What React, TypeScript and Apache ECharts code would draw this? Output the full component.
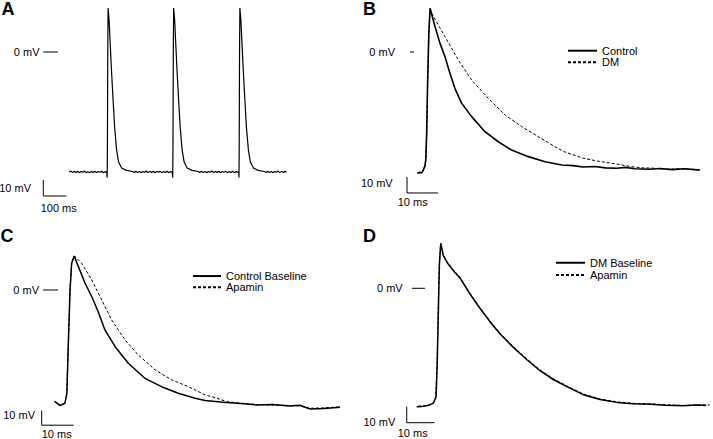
import React, { useEffect, useRef } from "react";
import * as echarts from "echarts";

// ---------- Panel A: spike train (t in ms, V in mV) ----------
const A_TRACE: number[][] = [
  [0, -75.0], [8, -74.4], [15, -75.4], [22, -74.6], [30, -75.3], [37, -74.5], [45, -75.5], [52, -74.7],
  [60, -75.2], [67, -74.4], [75, -75.4], [82, -74.8], [90, -75.5], [97, -74.6], [105, -75.3], [112, -74.5],
  [120, -75.4], [127, -74.7], [135, -75.2], [142, -74.5], [150, -75.5], [157, -74.8], [164, -75.2],
  [166, -78.5], [167, -60], [168.5, 0], [170, 27.5], [174.3, 20], [183.9, -9.4], [191.7, -30], [198.3, -46.9],
  [207, -61.3], [215.7, -68.8], [228.7, -72.5], [250.4, -74], [276.5, -74.7],
  [284, -75.3], [291, -74.5], [299, -75.4], [306, -74.6], [314, -75.5], [321, -74.7], [329, -75.2], [336, -74.4],
  [344, -75.4], [351, -74.6], [359, -75.3], [366, -74.5], [374, -75.5], [381, -74.7], [389, -75.2], [396, -74.5],
  [404, -75.4], [411, -74.7], [419, -75.3], [426, -74.5], [434, -75.4], [441, -74.8], [449, -75.2],
  [451, -78.5], [452, -60], [453.5, 0], [455, 27.5], [459.3, 20], [468.9, -9.4], [476.7, -30], [483.3, -46.9],
  [492, -61.3], [500.7, -68.8], [513.7, -72.5], [535.4, -74], [561.5, -74.7],
  [569, -75.3], [576, -74.5], [584, -75.4], [591, -74.6], [599, -75.5], [606, -74.7], [614, -75.2], [621, -74.4],
  [629, -75.4], [636, -74.6], [644, -75.3], [651, -74.5], [659, -75.5], [666, -74.7], [674, -75.2], [681, -74.5],
  [689, -75.4], [696, -74.7], [704, -75.3], [711, -74.5], [719, -75.4], [726, -74.8], [734, -75.2], [738, -74.9],
  [739, -78.5], [740, -60], [741.5, 0], [743, 27.5], [747.3, 20], [756.9, -9.4], [764.7, -30], [771.3, -46.9],
  [780, -61.3], [788.7, -68.8], [801.7, -72.5], [823.4, -74], [849.5, -74.7],
  [857, -75.3], [864, -74.5], [872, -75.4], [879, -74.6], [887, -75.5], [894, -74.7], [902, -75.2], [909, -74.4],
  [917, -75.4], [924, -74.6], [932, -75.3], [939, -74.5], [946, -75.2],
];

// ---------- Panel B ----------
const B_CONTROL: number[][] = [
  [-0.2, -75.8], [0.6, -75.2], [1.2, -75.6], [1.7, -73.8], [2.2, -71.5], [2.5, -67.5], [2.8, -50.6], [3.1, -19.4],
  [3.5, 11.9], [3.9, 27.3], [5.5, 15.8], [7.1, 5.4], [8.7, -2.9], [10.3, -13.3], [11.9, -22.7], [14.1, -32.1],
  [17.3, -40.4], [21.6, -49.8], [25.9, -56.1], [30.2, -61.3], [35.6, -65.4], [41, -68.6], [46.4, -70.6],
  [50, -71.0], [53.2, -71.9], [57, -71.6], [60.5, -72.4], [64.1, -72.7], [67, -72.1], [70, -73.0], [74.8, -73.3],
  [78, -72.8], [82, -73.5], [86, -73.0], [90.9, -73.8],
];
const B_DM: number[][] = [
  [-0.2, -75.4], [0.8, -75.9], [1.5, -74.6], [2.0, -72.8], [2.5, -68], [2.8, -52], [3.1, -20], [3.5, 12],
  [3.9, 27.3], [4.4, 24.2], [8.7, 9.6], [13, -5], [17.3, -17.5], [22.7, -29], [28.1, -39.4], [33.5, -46.7],
  [38.8, -52.9], [44.2, -59.2], [47.4, -62.5], [53.3, -66.4], [58, -68.2], [64.1, -70], [68.4, -71.5],
  [72, -72.4], [76, -72.6], [80, -73.3], [85, -72.9], [91, -73.6],
];

// ---------- Panel C ----------
const C_CONTROL: number[][] = [
  [0, -76], [1.6, -78.7], [3.1, -77.1], [3.7, -70.3], [4.2, -34], [4.7, 0], [5.2, 18.2], [6, 23.1], [7.3, 15.9],
  [9.4, 4.6], [11.5, -4.6], [13.5, -14.8], [15.6, -27.2], [18.8, -38.6], [22.9, -49.9], [28.1, -60.1],
  [33.3, -65.8], [38.5, -70.3], [43.8, -73.7], [46.9, -75.2], [52.6, -76.4], [58, -77.3], [63, -78.2],
  [68, -78.0], [73.4, -78.9], [76.5, -78.4], [79.7, -81.0], [84, -80.6], [89.1, -79.8],
];
const C_APAMIN: number[][] = [
  [-0.3, -75.5], [0.8, -77.8], [1.8, -78.5], [3.1, -76.8], [3.7, -70], [4.2, -34], [4.7, 0], [5.2, 18.2],
  [6.1, 23.1], [8.3, 18.2], [11.5, 6.8], [14.6, -6.8], [17.7, -20.4], [21.9, -34], [26, -44.2], [31.3, -54.4],
  [36.5, -61.2], [41.7, -65.8], [46.9, -71.4], [50, -73.2], [53.7, -76], [58, -77.0], [63, -78.0], [68, -78.3],
  [73.4, -78.6], [76.5, -78.9], [79.7, -80.5], [84, -80.2], [89.1, -79.5],
];

// ---------- Panel D ----------
const D_BASELINE: number[][] = [
  [0, -74], [2, -73.8], [4, -73.2], [6, -71.9], [7, -67.8], [7.4, -46.9], [7.8, -15.6], [8.2, 15.6], [8.7, 28.1],
  [9.6, 20.5], [11, 16], [13, 11.5], [15.6, 6.5], [19.2, -3.5], [22.8, -12.5], [26.5, -21], [30.1, -28.5], [34.9, -37],
  [39.7, -44.5], [44.5, -51.5], [49.3, -57], [54.2, -61.5], [60.1, -66.5], [66.2, -69.5], [72.2, -71.3],
  [78, -72.2], [84.2, -72.5], [90, -73.1], [96.2, -73.4], [101, -73.0], [104.5, -73.3],
];
const D_APAMIN: number[][] = [
  [0.5, -73.6], [3, -73.5], [5.5, -72.6], [6.8, -69], [7.3, -50], [7.7, -18], [8.1, 12], [8.6, 28.3], [9.5, 21],
  [11, 16.5], [13, 12], [15.6, 7], [19.2, -3], [22.8, -12], [26.5, -20.5], [30.1, -28], [34.9, -36.5], [39.7, -44],
  [44.5, -51], [49.3, -56.5], [54.2, -61], [60.1, -66], [66.2, -69.2], [72.2, -70.9], [78, -71.9], [84.2, -72.2],
  [90, -72.8], [96.2, -73.2], [101, -72.8], [105.8, -72.9],
];

// ---------- Scale bars & 0 mV markers (in each panel's own units) ----------
const A_SCALEBAR = [[-111.7, -80], [-111.7, -90], [-11.7, -90]];
const B_SCALEBAR = [[-3.55, -78.1], [-3.55, -88.1], [6.45, -88.1]];
const C_SCALEBAR = [[-4.16, -82], [-4.16, -92], [5.84, -92]];
const D_SCALEBAR = [[-3.6, -74], [-3.6, -84], [6.4, -84]];
const A_ZERO = [[-111.7, 0], [-47.8, 0]];
const B_ZERO = [[-2.6, 0], [-1.3, 0]];
const C_ZERO = [[-3.75, 0], [0.94, 0]];
const D_ZERO = [[-1.7, 0], [3.0, 0]];

const FONT = "'Liberation Sans', Arial, Helvetica, sans-serif";

function trace(name: string, idx: number, data: number[][], dashed = false, width = 1.5) {
  return {
    name,
    type: "line",
    xAxisIndex: idx,
    yAxisIndex: idx,
    data,
    symbol: "none",
    showSymbol: false,
    clip: false,
    silent: true,
    lineStyle: { color: "#000", width, type: dashed ? [3, 2] : "solid" },
    itemStyle: { color: "#000" },
  };
}

function legendFor(names: string[], left: number, top: number, row: number, w: number) {
  return {
    data: names,
    orient: "vertical",
    left,
    top,
    padding: 0,
    itemGap: 0,
    itemWidth: w,
    itemHeight: row,
    selectedMode: false,
    itemStyle: { opacity: 0 },
    textStyle: { fontSize: 11, lineHeight: row, fontFamily: FONT, color: "#000" },
  };
}

function txt(text: string, x: number, y: number, align: string, size = 11, bold = false) {
  return {
    type: "text",
    x,
    y,
    silent: true,
    style: {
      text,
      fill: "#000",
      fontSize: size,
      fontWeight: bold ? "bold" : "normal",
      fontFamily: FONT,
      align,
      verticalAlign: "middle",
    },
  };
}

export default function App() {
  const ref = useRef<HTMLDivElement>(null);
  useEffect(() => {
    const chart = echarts.init(ref.current!, null, { renderer: "svg" });
    const grids = [
      { left: 34.5, top: 4, width: 255.3, height: 195.2 },
      { left: 399.4, top: 4, width: 303.8, height: 195.2 },
      { left: 35.8, top: 240, width: 313.6, height: 189.6 },
      { left: 400.1, top: 235.5, width: 310.2, height: 200 },
    ];
    const xr = [[-150, 960], [-6, 92], [-6, 92], [-6, 106]];
    const yr = [[-92, 30], [-92, 30], [-95, 34], [-92, 33]];
    const option: any = {
      animation: false,
      backgroundColor: "#fff",
      grid: grids,
      xAxis: xr.map((r, i) => ({ type: "value", gridIndex: i, min: r[0], max: r[1], show: false })),
      yAxis: yr.map((r, i) => ({ type: "value", gridIndex: i, min: r[0], max: r[1], show: false })),
      legend: [
        legendFor(["Control", "DM"], 567, 44.9, 11.6, 29),
        legendFor(["Control Baseline", "Apamin"], 192, 270.4, 11.3, 28),
        legendFor(["DM Baseline", "Apamin"], 555, 256.6, 12.3, 29),
      ],
      series: [
        trace("Spike train", 0, A_TRACE, false, 1.2),
        trace("Control", 1, B_CONTROL, false, 1.6),
        trace("DM", 1, B_DM, true, 1),
        trace("Control Baseline", 2, C_CONTROL, false, 1.5),
        trace("Apamin", 2, C_APAMIN, true, 1),
        trace("DM Baseline", 3, D_BASELINE, false, 1.5),
        trace("Apamin", 3, D_APAMIN, true, 1),
        trace("scaleA", 0, A_SCALEBAR, false, 1),
        trace("scaleB", 1, B_SCALEBAR, false, 1),
        trace("scaleC", 2, C_SCALEBAR, false, 1),
        trace("scaleD", 3, D_SCALEBAR, false, 1),
        trace("zeroA", 0, A_ZERO, false, 1),
        trace("zeroB", 1, B_ZERO, false, 1),
        trace("zeroC", 2, C_ZERO, false, 1),
        trace("zeroD", 3, D_ZERO, false, 1),
      ],
      graphic: [
        txt("A", 1.5, 8.5, "left", 18, true),
        txt("B", 363, 8.5, "left", 18, true),
        txt("C", 0.5, 235.5, "left", 18, true),
        txt("D", 363, 235.5, "left", 18, true),
        txt("0 mV", 39.5, 52, "right"),
        txt("0 mV", 395, 52, "right"),
        txt("0 mV", 39, 290, "right"),
        txt("0 mV", 402.7, 288.3, "right"),
        txt("10 mV", 31, 188, "right"),
        txt("10 mV", 392.7, 183.3, "right"),
        txt("10 mV", 35, 415, "right"),
        txt("10 mV", 395.3, 421.7, "right"),
        txt("100 ms", 40.7, 207.7, "left"),
        txt("10 ms", 397.7, 202.3, "left"),
        txt("10 ms", 41.7, 434, "left"),
        txt("10 ms", 397.7, 433.3, "left"),
      ],
    };
    chart.setOption(option);
    return () => chart.dispose();
  }, []);
  return (
    <div
      ref={ref}
      style={{ position: "fixed", left: 0, top: 0, width: 713, height: 439, background: "#fff" }}
    />
  );
}
